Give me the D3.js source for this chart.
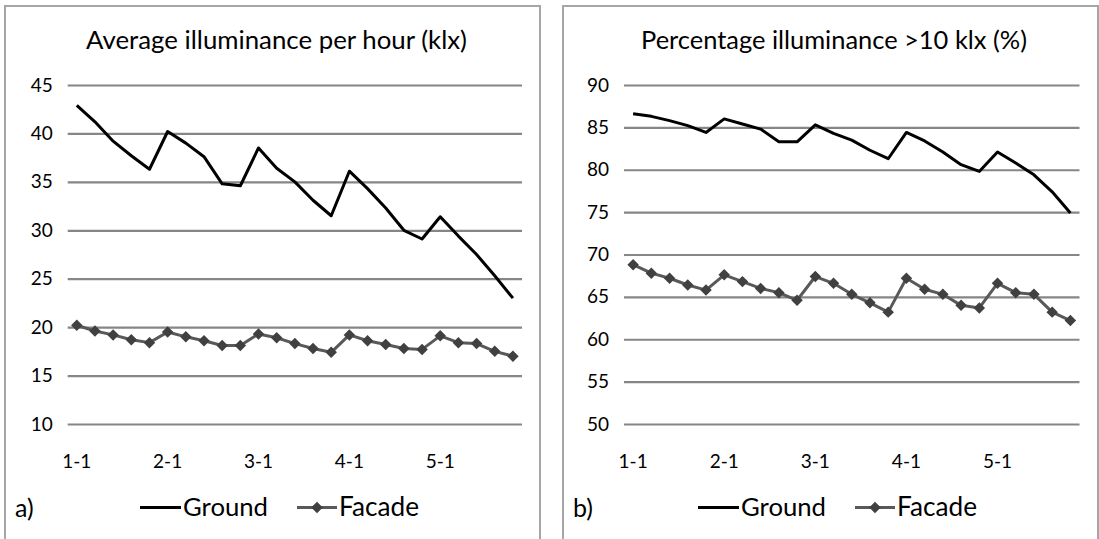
<!DOCTYPE html>
<html><head><meta charset="utf-8">
<script src="https://cdn.jsdelivr.net/npm/d3@7"></script>
<style>body{margin:0;background:#fff} svg{display:block}</style>
</head><body>
<svg id="c" width="1099" height="539"></svg>
<script>
const categories = ["1-1","1-2","1-3","1-4","1-5","2-1","2-2","2-3","2-4","2-5","3-1","3-2","3-3","3-4","3-5","4-1","4-2","4-3","4-4","4-5","5-1","5-2","5-3","5-4","5-5"];
const xTickLabels = ["1-1","2-1","3-1","4-1","5-1"];
const groundA = [42.9,41.2,39.2,37.7,36.3,40.2,39.0,37.6,34.8,34.6,38.5,36.4,35.0,33.1,31.5,36.1,34.3,32.3,30.0,29.1,31.4,29.4,27.5,25.3,23.0];
const facadeA = [20.2,19.6,19.2,18.7,18.4,19.5,19.0,18.6,18.1,18.1,19.3,18.9,18.3,17.8,17.4,19.2,18.6,18.2,17.8,17.7,19.1,18.4,18.3,17.5,17.0];
const groundB = [86.6,86.3,85.8,85.2,84.4,86.0,85.4,84.8,83.3,83.3,85.3,84.3,83.5,82.3,81.3,84.4,83.4,82.1,80.6,79.8,82.1,80.8,79.4,77.4,74.9];
const facadeB = [68.8,67.8,67.2,66.4,65.8,67.6,66.8,66.0,65.5,64.6,67.4,66.6,65.3,64.3,63.2,67.2,65.9,65.3,64.0,63.7,66.6,65.5,65.3,63.2,62.2];
const ticksA = [10,15,20,25,30,35,40,45];
const ticksB = [50,55,60,65,70,75,80,85,90];
const titles = ["Average illuminance per hour (klx)", "Percentage illuminance >10 klx (%)"];
const seriesNames = ["Ground","Facade"];
const panelLabels = ["a)","b)"];

const svg = d3.select("#c");
const FONT = "Lato, 'Open Sans', sans-serif";
const GRID = "#868686", FAC = "#595959", MARK = "#404040";
const diamond = d3.symbol().type(d3.symbolSquare).size(66)();

function fitText(sel, target) {
  const w = sel.node().getComputedTextLength();
  const fs = parseFloat(sel.attr("font-size"));
  sel.attr("font-size", (fs * target / w).toFixed(2));
}

function panel(cfg) {
  const g = svg.append("g");
  g.append("rect").attr("x", cfg.px).attr("y", 6).attr("width", cfg.pw).attr("height", 600)
    .attr("fill", "none").attr("stroke", "#a6a6a6").attr("stroke-width", 2);

  const x = d3.scaleBand().domain(categories).range([cfg.x0, cfg.x1]);
  const y = d3.scaleLinear().domain([cfg.ticks[0], cfg.ticks[cfg.ticks.length - 1]]).range([424, 85]);
  const cx = (d, i) => x(categories[i]) + x.bandwidth() / 2;

  const ya = g.append("g").attr("transform", `translate(${cfg.x0},0)`)
    .call(d3.axisLeft(y).tickValues(cfg.ticks).tickSize(-(cfg.x1 - cfg.x0)).tickPadding(15).tickFormat(d3.format("d")));
  ya.select(".domain").remove();
  ya.selectAll(".tick line").attr("stroke", GRID).attr("stroke-width", 2.2);
  ya.selectAll(".tick text").attr("font-family", FONT).attr("font-size", 19).attr("fill", "#000");

  const xa = g.append("g").attr("transform", `translate(0,424)`)
    .call(d3.axisBottom(x).tickValues(xTickLabels).tickSize(0).tickPadding(0));
  xa.select(".domain").remove();
  xa.selectAll(".tick text").attr("font-family", FONT).attr("font-size", 19).attr("fill", "#000")
    .attr("y", 44).attr("dy", null);

  const line = d3.line().x((d, i) => cx(d, i)).y(d => y(d));
  g.append("path").datum(cfg.ground).attr("d", line).attr("fill", "none")
    .attr("stroke", "#000").attr("stroke-width", 3).attr("stroke-linejoin", "round");
  g.append("path").datum(cfg.facade).attr("d", line).attr("fill", "none")
    .attr("stroke", FAC).attr("stroke-width", 3).attr("stroke-linejoin", "round");
  g.selectAll(".mk").data(cfg.facade).join("path").attr("class", "mk")
    .attr("d", diamond).attr("fill", MARK)
    .attr("transform", (d, i) => `translate(${cx(d, i)},${y(d)}) rotate(45)`);

  const t = g.append("text").attr("x", cfg.titleX).attr("y", 49).attr("text-anchor", "middle")
    .attr("font-family", FONT).attr("font-size", 22).text(cfg.title);
  fitText(t, cfg.titleW);

  // legend
  const L = cfg.px;
  g.append("text").attr("x", L + 10).attr("y", 517).attr("font-family", FONT).attr("font-size", 25).text(cfg.label);
  g.append("line").attr("x1", L + 135).attr("x2", L + 176).attr("y1", 507.5).attr("y2", 507.5)
    .attr("stroke", "#000").attr("stroke-width", 3);
  const t1 = g.append("text").attr("x", L + 178).attr("y", 516).attr("font-family", FONT).attr("font-size", 24).text(seriesNames[0]);
  fitText(t1, 85);
  g.append("line").attr("x1", L + 292).attr("x2", L + 332).attr("y1", 507.5).attr("y2", 507.5)
    .attr("stroke", FAC).attr("stroke-width", 3);
  g.append("path").attr("d", diamond).attr("fill", MARK)
    .attr("transform", `translate(${L + 312},507.5) rotate(45)`);
  const t2 = g.append("text").attr("x", L + 334).attr("y", 516).attr("font-family", FONT).attr("font-size", 24).text(seriesNames[1]);
  fitText(t2, 80);
}

panel({px: 5, pw: 535, x0: 67.7, x1: 522, ticks: ticksA, ground: groundA, facade: facadeA,
  title: titles[0], titleX: 276.5, titleW: 381, label: panelLabels[0]});
panel({px: 563, pw: 535, x0: 624, x1: 1079.5, ticks: ticksB, ground: groundB, facade: facadeB,
  title: titles[1], titleX: 834, titleW: 386, label: panelLabels[1]});
</script>
</body></html>
